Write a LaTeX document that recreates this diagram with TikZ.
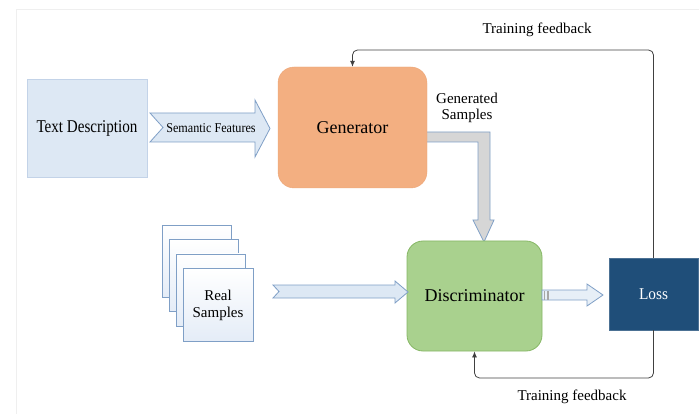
\documentclass[tikz,border=0pt]{standalone}
\usepackage{fontspec}
\setmainfont{Liberation Serif}
\usetikzlibrary{calc,arrows.meta}
\definecolor{tdfill}{HTML}{DDE8F4}
\definecolor{tdline}{HTML}{C3D3E8}
\definecolor{arrline}{HTML}{7F9FC6}
\definecolor{genfill}{HTML}{F3AF81}
\definecolor{genline}{HTML}{EBA678}
\definecolor{disfill}{HTML}{A9D18E}
\definecolor{disline}{HTML}{86B765}
\definecolor{lossfill}{HTML}{1F4E79}
\definecolor{greyfill}{HTML}{D6D6D6}
\definecolor{pagefill}{HTML}{E4ECF7}
\definecolor{frame}{HTML}{EFEFEF}
\tikzset{
  fatarrow/.style={draw=arrline, line width=0.8pt, line join=miter, fill=tdfill},
  page/.style={draw=arrline, line width=0.8pt, top color=white, bottom color=pagefill},
  fb/.style={draw=black!75, line width=0.8pt, rounded corners=5pt},
  fbtip/.style={-{Latex[length=6pt,width=5pt]}},
  lab/.style={font=\rmfamily\fontsize{15}{17}\selectfont, align=center, inner sep=0pt},
  big/.style={font=\rmfamily\fontsize{18}{20}\selectfont, inner sep=0pt},
}
\begin{document}
\begin{tikzpicture}[x=1pt,y=-1pt]
\useasboundingbox (0,0) rectangle (699,414);
% faint frame
\draw[frame, line width=1pt] (16,414) -- (16,10) -- (699,10);

% text description
\node[draw=tdline, fill=tdfill, line width=0.8pt, minimum width=120pt, minimum height=98pt, inner sep=0pt] (td) at (87,128) {};
\node[big] at (td.center) {\scalebox{0.84}[1]{Text Description}};

% generated samples arrow (drawn under generator)
\filldraw[fatarrow, fill=greyfill] (424,132) -- (490,132) -- (490,220) -- (494,220) -- (484,242) -- (473,220) -- (478,220) -- (478,142) -- (424,142) -- cycle;

% generator
\node[draw=genline, fill=genfill, rounded corners=16pt, minimum width=149pt, minimum height=121pt, inner sep=0pt] (gen) at (352.5,127.5) {};
\node[big] at (gen.center) {Generator};
\node[lab] (gslab) at (467,108) {Generated\\[-1pt]Samples};

% semantic features arrow
\filldraw[fatarrow] (150,113) -- (255,113) -- (255,100) -- (270,128.5) -- (255,157) -- (255,142) -- (150,142) -- (163,127.5) -- cycle;
\node[font=\rmfamily\fontsize{13.5}{15}\selectfont, inner sep=0pt] (sf) at (211,128) {\scalebox{0.9}[1]{Semantic Features}};

% discriminator
\node[draw=disline, fill=disfill, rounded corners=16pt, minimum width=135pt, minimum height=110pt, inner sep=0pt, line width=0.8pt] (dis) at (474.5,296) {};
\node[big] at (dis.center) {Discriminator};

% loss
\node[draw=lossfill!80!white, fill=lossfill, minimum width=89pt, minimum height=72pt, inner sep=0pt] (loss) at (653.5,294) {};
\node[font=\rmfamily\fontsize{16.5}{18}\selectfont, text=white, inner sep=0pt] at (loss.center) {\scalebox{0.93}[1]{Loss}};

% real samples pages
\node[page, minimum width=69pt, minimum height=72pt, inner sep=0pt] (p1) at (196.5,261) {};
\node[page, minimum width=69pt, minimum height=72pt, inner sep=0pt] (p2) at (203.5,275.5) {};
\node[page, minimum width=69pt, minimum height=72pt, inner sep=0pt] (p3) at (210.5,290) {};
\node[page, minimum width=70pt, minimum height=73pt, inner sep=0pt] (rs) at (218,305) {};
\node[lab] at (rs.center) {Real\\[0pt]Samples};

% real -> discriminator arrow
\filldraw[fatarrow] (273,285) -- (395,285) -- (395,281) -- (408,292) -- (395,303) -- (395,298) -- (273,298) -- (279,291.5) -- cycle;

% discriminator -> loss arrow
\filldraw[fatarrow, fill=tdfill!70!white] (542,290) -- (587,290) -- (587,284) -- (603,295) -- (587,306) -- (587,300) -- (542,300) -- cycle;
\fill[black!35] (543.5,290.5) rectangle (545,299.5);
\fill[black!35] (547,290.5) rectangle (548.5,299.5);

% feedback loops
\coordinate (topy) at (0,50);
\coordinate (boty) at (0,378);
\draw[fb, fbtip] (loss.north) -- (loss.north |- topy) -- (gen.north |- topy) -- (gen.north);
\draw[fb, fbtip] (loss.south) -- (loss.south |- boty) -- (dis.south |- boty) -- (dis.south);
\node[lab] (tf1) at (537,30) {Training feedback};
\node[lab] (tf2) at (572,397) {Training feedback};
\end{tikzpicture}
\end{document}
